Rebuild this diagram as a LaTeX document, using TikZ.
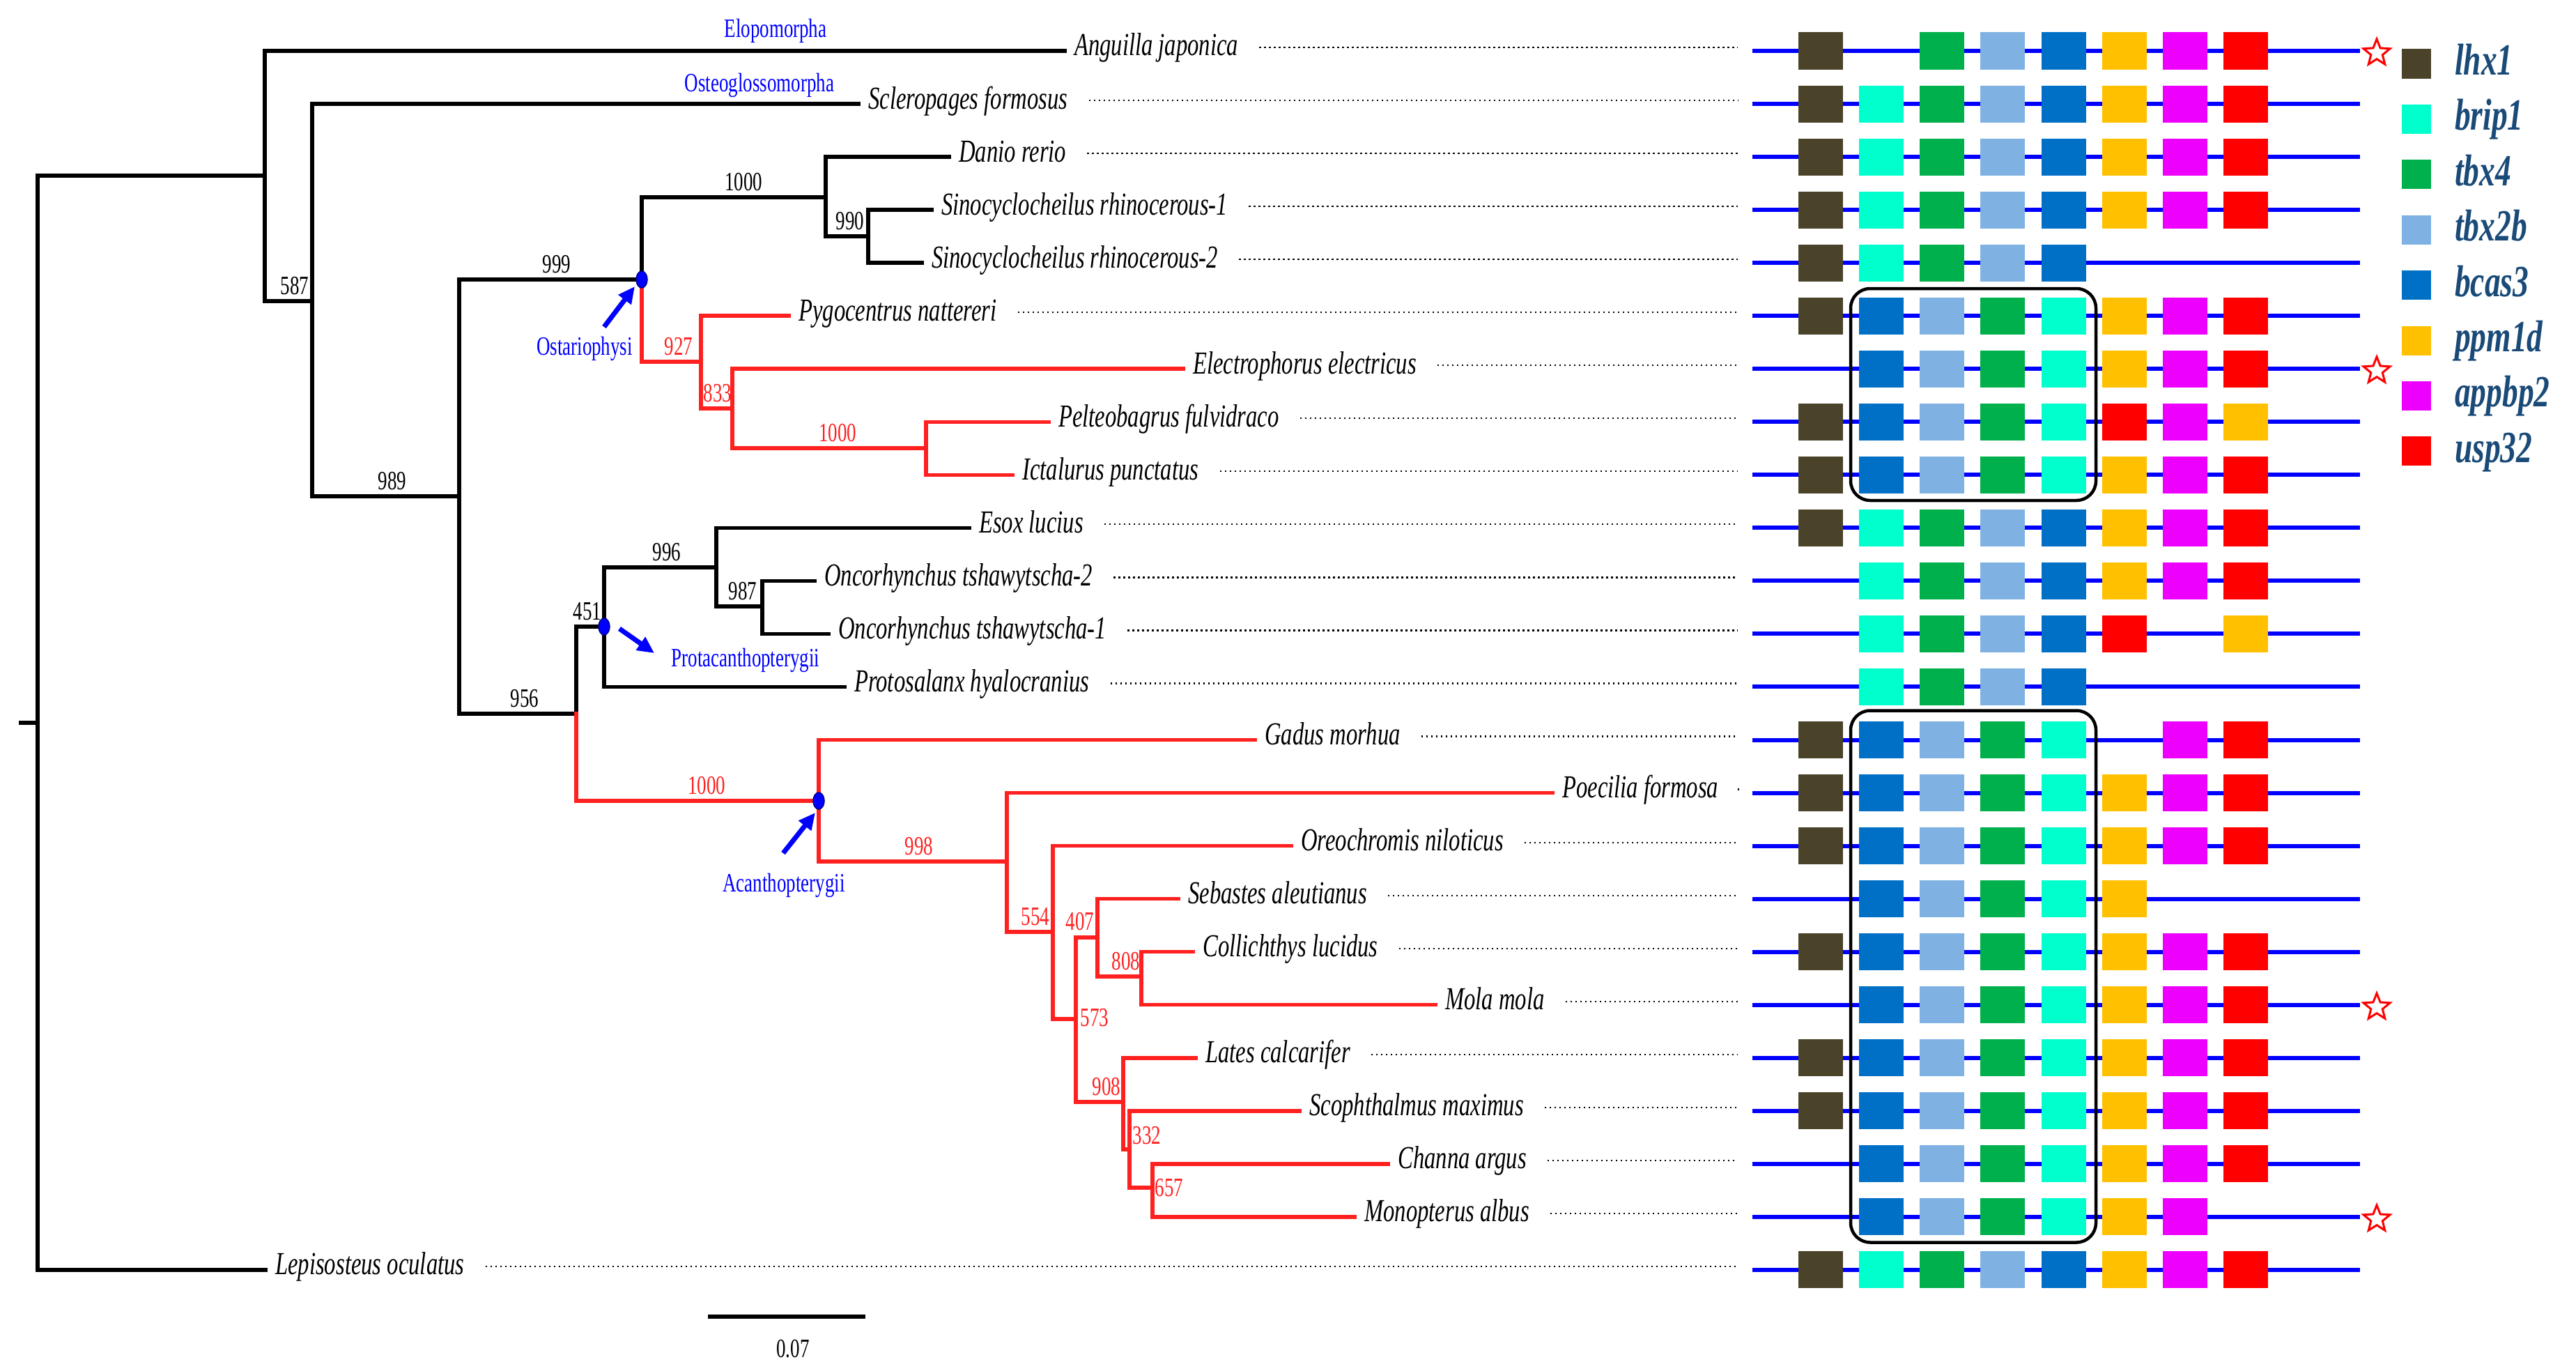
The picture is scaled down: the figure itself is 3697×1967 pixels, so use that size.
\documentclass[tikz,border=0pt]{standalone}
\usepackage{fontspec}
\newfontfamily\treefont{Liberation Serif}[FakeStretch=0.71]
\usetikzlibrary{arrows.meta,shapes.geometric,calc}
\definecolor{treered}{HTML}{FF2020}
\definecolor{legblue}{HTML}{1A4A78}
\definecolor{gL}{HTML}{4A4329}
\definecolor{gR}{HTML}{00FFCC}
\definecolor{gF}{HTML}{00B04C}
\definecolor{gB}{HTML}{7FB2E3}
\definecolor{gC}{HTML}{0070C6}
\definecolor{gP}{HTML}{FFC000}
\definecolor{gA}{HTML}{EE00FF}
\definecolor{gU}{HTML}{FF0000}
\newcommand\leaf[3]{%
  \pgfmathsetmacro\ry{73+76.04*#1}
  \coordinate (tip#1) at (#2,\ry);
  \node[sp] (t#1) at (#2+14,\ry+7) {#3};
  \draw[dots] ([xshift=30pt]t#1.east) -- (t#1.east -| dotend);
}
\begin{document}
\begin{tikzpicture}[x=1pt,y=-1pt,
  br/.style={line width=5.5pt, line cap=rect, black},
  brr/.style={line width=5.5pt, line cap=rect, treered},
  sp/.style={font=\treefont\itshape\fontsize{46}{50}\selectfont, anchor=base west, inner sep=0pt, text height=34pt, text depth=10pt},
  dots/.style={line width=2.2pt, dash pattern=on 2.2pt off 4.8pt, black},
  bs/.style={font=\treefont\fontsize{38}{40}\selectfont, anchor=base, inner sep=0pt},
  bsr/.style={bs, text=treered},
  clade/.style={font=\treefont\fontsize{38}{40}\selectfont, anchor=base, inner sep=0pt, text=blue},
  cladearrow/.style={line width=7pt, blue, -{Triangle[length=24pt,width=22pt]}},
  bdot/.style={ellipse, fill=blue, draw=blue!55!black, line width=1.5pt, minimum width=16pt, minimum height=24pt, inner sep=0pt},
  geneline/.style={line width=6pt, blue},
  gbox/.style={minimum width=64pt, minimum height=53pt, inner sep=0pt, draw=none},
  legbox/.style={minimum width=42pt, minimum height=42pt, inner sep=0pt, draw=none},
  legtext/.style={font=\treefont\bfseries\itshape\fontsize{64}{70}\selectfont, text=legblue, anchor=base west, inner sep=0pt},
  redstar/.style={star, star points=5, star point ratio=2.3, draw=red, fill=white, line width=3pt, minimum size=40pt, inner sep=0pt},
  synbox/.style={draw, line width=4.5pt, rounded corners=28pt, inner sep=0pt}
]
\useasboundingbox (0,0) rectangle (3697,1967);

% ---------- tree internal nodes ----------
\coordinate (root) at (54,1037);
\coordinate (rootstub) at (30,1037);
\coordinate (nA) at (380,252);
\coordinate (n587) at (448,432);
\coordinate (n989) at (659,712);
\coordinate (n999) at (921,401);
\coordinate (n1000a) at (1185,283);
\coordinate (n990) at (1246,339);
\coordinate (n927) at (1006,519);
\coordinate (n833) at (1051,586);
\coordinate (n1000b) at (1329,643);
\coordinate (n956) at (827,1024);
\coordinate (n451) at (867,899);
\coordinate (n996) at (1028,814);
\coordinate (n987) at (1094,870);
\coordinate (n1000c) at (1175,1149);
\coordinate (n998) at (1445,1236);
\coordinate (n554) at (1511,1337);
\coordinate (n573) at (1544,1462);
\coordinate (n407) at (1575,1345);
\coordinate (n808) at (1638,1401);
\coordinate (n908) at (1612,1581);
\coordinate (n332) at (1621,1649);
\coordinate (n657) at (1654,1704);
\coordinate (dotend) at (2494,0);

% ---------- leaves ----------
\leaf{0}{1528}{Anguilla japonica}
\leaf{1}{1232}{Scleropages formosus}
\leaf{2}{1362}{Danio rerio}
\leaf{3}{1337}{Sinocyclocheilus rhinocerous-1}
\leaf{4}{1323}{Sinocyclocheilus rhinocerous-2}
\leaf{5}{1132}{Pygocentrus nattereri}
\leaf{6}{1698}{Electrophorus electricus}
\leaf{7}{1505}{Pelteobagrus fulvidraco}
\leaf{8}{1453}{Ictalurus punctatus}
\leaf{9}{1391}{Esox lucius}
\leaf{10}{1169}{Oncorhynchus tshawytscha-2}
\leaf{11}{1189}{Oncorhynchus tshawytscha-1}
\leaf{12}{1212}{Protosalanx hyalocranius}
\leaf{13}{1801}{Gadus morhua}
\leaf{14}{2228}{Poecilia formosa}
\leaf{15}{1853}{Oreochromis niloticus}
\leaf{16}{1691}{Sebastes aleutianus}
\leaf{17}{1712}{Collichthys lucidus}
\leaf{18}{2060}{Mola mola}
\leaf{19}{1716}{Lates calcarifer}
\leaf{20}{1865}{Scophthalmus maximus}
\leaf{21}{1992}{Channa argus}
\leaf{22}{1944}{Monopterus albus}
\leaf{23}{381}{Lepisosteus oculatus}

% ---------- branches ----------
\draw[br] (rootstub) -- (root);
\draw[br] (root) |- (nA);
\draw[br] (root) |- (tip23);
\draw[br] (nA) |- (tip0);
\draw[br] (nA) |- (n587);
\draw[br] (n587) |- (tip1);
\draw[br] (n587) |- (n989);
\draw[br] (n989) |- (n999);
\draw[br] (n989) |- (n956);
\draw[br] (n999) |- (n1000a);
\draw[br] (n1000a) |- (tip2);
\draw[br] (n1000a) |- (n990);
\draw[br] (n990) |- (tip3);
\draw[br] (n990) |- (tip4);
\draw[brr] (n999) |- (n927);
\draw[brr] (n927) |- (tip5);
\draw[brr] (n927) |- (n833);
\draw[brr] (n833) |- (tip6);
\draw[brr] (n833) |- (n1000b);
\draw[brr] (n1000b) |- (tip7);
\draw[brr] (n1000b) |- (tip8);
\draw[br] (n956) |- (n451);
\draw[br] (n451) |- (n996);
\draw[br] (n451) |- (tip12);
\draw[br] (n996) |- (tip9);
\draw[br] (n996) |- (n987);
\draw[br] (n987) |- (tip10);
\draw[br] (n987) |- (tip11);
\draw[brr] (n956) |- (n1000c);
\draw[brr] (n1000c) |- (tip13);
\draw[brr] (n1000c) |- (n998);
\draw[brr] (n998) |- (tip14);
\draw[brr] (n998) |- (n554);
\draw[brr] (n554) |- (tip15);
\draw[brr] (n554) |- (n573);
\draw[brr] (n573) |- (n407);
\draw[brr] (n573) |- (n908);
\draw[brr] (n407) |- (tip16);
\draw[brr] (n407) |- (n808);
\draw[brr] (n808) |- (tip17);
\draw[brr] (n808) |- (tip18);
\draw[brr] (n908) |- (tip19);
\draw[brr] (n908) |- (n332);
\draw[brr] (n332) |- (tip20);
\draw[brr] (n332) |- (n657);
\draw[brr] (n657) |- (tip21);
\draw[brr] (n657) |- (tip22);

% ---------- bootstrap values ----------
\node[bs] (l587) at (423,422) {587};
\node[bs] (l989) at (563,702) {989};
\node[bs] (l999) at (799,391) {999};
\node[bs] (l1000a) at (1067,273) {1000};
\node[bs] (l990) at (1220,329) {990};
\node[bsr] (l927) at (974,509) {927};
\node[bsr] (l833) at (1030,576) {833};
\node[bsr] (l1000b) at (1202,633) {1000};
\node[bs] (l956) at (753,1014) {956};
\node[bs] (l451) at (843,889) {451};
\node[bs] (l996) at (957,804) {996};
\node[bs] (l987) at (1066,860) {987};
\node[bsr] (l1000c) at (1014,1139) {1000};
\node[bsr] (l998) at (1319,1226) {998};
\node[bsr] (l554) at (1486,1327) {554};
\node[bsr] (l407) at (1550,1334) {407};
\node[bsr] (l573) at (1571,1472) {573};
\node[bsr] (l808) at (1616,1391) {808};
\node[bsr] (l908) at (1588,1571) {908};
\node[bsr] (l332) at (1646,1641) {332};
\node[bsr] (l657) at (1678,1716) {657};

% ---------- clade markers ----------
\node[bdot] (d999) at (n999) {};
\node[bdot] (d451) at (n451) {};
\node[bdot] (d1000c) at (n1000c) {};
\node[clade] (cElo) at (1113,54) {Elopomorpha};
\node[clade] (cOst) at (1090,131) {Osteoglossomorpha};
\node[clade] (cOsr) at (839,509) {Ostariophysi};
\node[clade] (cPro) at (1070,956) {Protacanthopterygii};
\node[clade] (cAca) at (1125,1279) {Acanthopterygii};
\coordinate (oa1) at (867,469); \coordinate (oa2) at (911,411);
\coordinate (pa1) at (889,902); \coordinate (pa2) at (939,937);
\coordinate (aa1) at (1124,1224); \coordinate (aa2) at (1170,1166);
\draw[cladearrow] (oa1) -- (oa2);
\draw[cladearrow] (pa1) -- (pa2);
\draw[cladearrow] (aa1) -- (aa2);

% ---------- scale bar ----------
\coordinate (sb1) at (1016,1889);
\coordinate (sb2) at (1242,1889);
\draw[line width=6pt] (sb1) -- (sb2);
\node[bs] (sbl) at (1138,1947) {0.07};

% ---------- gene order panel ----------
\foreach \r/\gl in {
 0/{L,x,F,B,C,P,A,U},
 1/{L,R,F,B,C,P,A,U},
 2/{L,R,F,B,C,P,A,U},
 3/{L,R,F,B,C,P,A,U},
 4/{L,R,F,B,C},
 5/{L,C,B,F,R,P,A,U},
 6/{x,C,B,F,R,P,A,U},
 7/{L,C,B,F,R,U,A,P},
 8/{L,C,B,F,R,P,A,U},
 9/{L,R,F,B,C,P,A,U},
 10/{x,R,F,B,C,P,A,U},
 11/{x,R,F,B,C,U,x,P},
 12/{x,R,F,B,C},
 13/{L,C,B,F,R,x,A,U},
 14/{L,C,B,F,R,P,A,U},
 15/{L,C,B,F,R,P,A,U},
 16/{x,C,B,F,R,P},
 17/{L,C,B,F,R,P,A,U},
 18/{x,C,B,F,R,P,A,U},
 19/{L,C,B,F,R,P,A,U},
 20/{L,C,B,F,R,P,A,U},
 21/{x,C,B,F,R,P,A,U},
 22/{x,C,B,F,R,P,A},
 23/{L,R,F,B,C,P,A,U}}{
  \pgfmathsetmacro\yy{73+76.04*\r}
  \coordinate (gl\r) at (2515,\yy);
  \coordinate (gr\r) at (3387,\yy);
  \draw[geneline] (gl\r) -- (gr\r);
  \foreach \c [count=\i] in \gl {
    \if x\c\relax\else
      \node[gbox, fill=g\c] (g\r-\i) at ({2613+87.14*(\i-1)},\yy) {};
    \fi
  }
}

% synteny boxes
\node[synbox, minimum width=352pt, minimum height=304pt] (box1) at (2832,566) {};
\node[synbox, minimum width=352pt, minimum height=763pt] (box2) at (2832,1401) {};

% stars
\node[redstar] (s0) at (3411,76) {};
\node[redstar] (s6) at (3411,532) {};
\node[redstar] (s18) at (3411,1445) {};
\node[redstar] (s22) at (3411,1749) {};

% legend
\foreach \c/\nm [count=\k from 0] in {L/lhx1,R/brip1,F/tbx4,B/tbx2b,C/bcas3,P/ppm1d,A/appbp2,U/usp32}{
  \pgfmathsetmacro\ly{91.5+79.4*\k}
  \node[legbox, fill=g\c] (lb\k) at (3468,\ly) {};
  \node[legtext] (lt\k) at (3523,\ly+16) {\nm};
}
\end{tikzpicture}
\end{document}
